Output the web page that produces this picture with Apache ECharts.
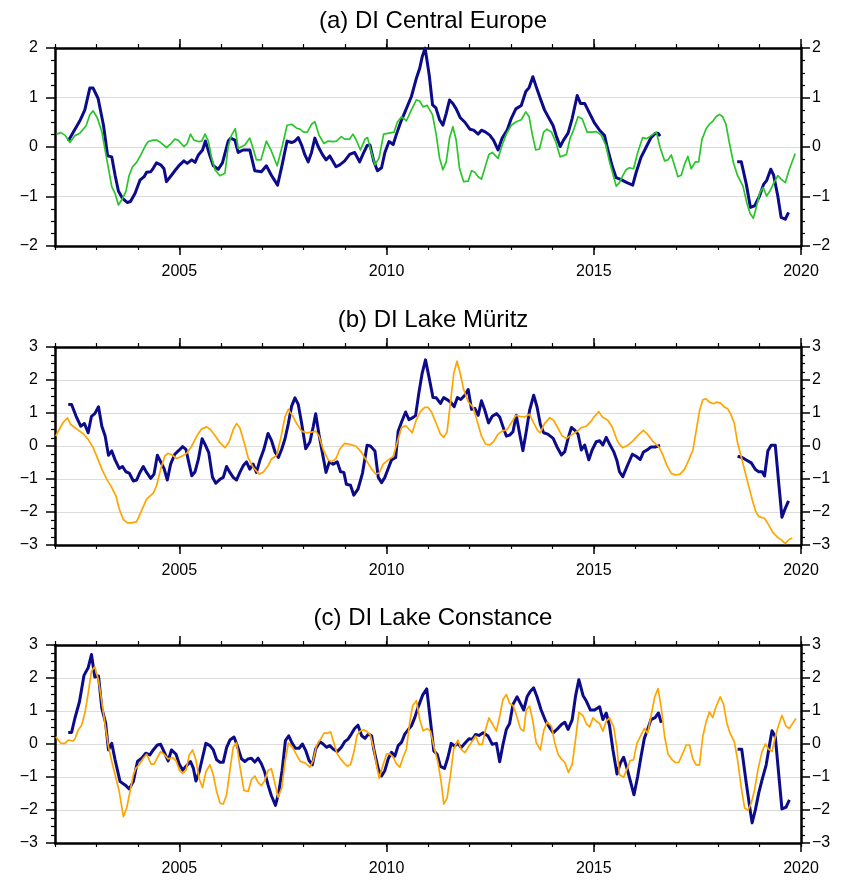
<!DOCTYPE html>
<html>
<head>
<meta charset="utf-8">
<script src="https://cdn.jsdelivr.net/npm/echarts@6.0.0/dist/echarts.min.js"></script>
<style>
  html, body { margin: 0; padding: 0; background: #fff; }
  #chart { width: 851px; height: 881px; }
</style>
</head>
<body>
<div id="chart"></div>
<script>
// decimal year, DI value; null = gap in the record
const centralObs = [[2002.32,0.12],[2002.44,0.30],[2002.60,0.53],[2002.72,0.75],[2002.84,1.19],[2002.92,1.19],[2003.04,0.98],[2003.17,0.44],[2003.27,-0.18],[2003.37,-0.20],[2003.45,-0.57],[2003.53,-0.89],[2003.63,-1.04],[2003.74,-1.12],[2003.82,-1.10],[2003.93,-0.94],[2004.05,-0.67],[2004.15,-0.60],[2004.21,-0.51],[2004.31,-0.50],[2004.37,-0.43],[2004.45,-0.32],[2004.55,-0.36],[2004.63,-0.44],[2004.69,-0.70],[2004.81,-0.57],[2004.92,-0.45],[2005.01,-0.36],[2005.11,-0.28],[2005.19,-0.33],[2005.30,-0.26],[2005.38,-0.31],[2005.46,-0.16],[2005.56,-0.06],[2005.63,0.12],[2005.72,-0.13],[2005.82,-0.38],[2005.94,-0.45],[2006.04,-0.32],[2006.18,0.12],[2006.24,0.18],[2006.34,0.14],[2006.42,-0.11],[2006.54,-0.06],[2006.70,-0.06],[2006.82,-0.48],[2006.98,-0.50],[2007.10,-0.38],[2007.22,-0.57],[2007.31,-0.69],[2007.37,-0.77],[2007.47,-0.40],[2007.60,0.12],[2007.71,0.09],[2007.79,0.12],[2007.87,0.19],[2007.95,0.04],[2008.03,-0.16],[2008.11,-0.30],[2008.19,-0.11],[2008.27,0.18],[2008.35,0.01],[2008.45,-0.15],[2008.54,-0.26],[2008.63,-0.18],[2008.78,-0.40],[2008.87,-0.36],[2008.99,-0.28],[2009.11,-0.15],[2009.23,-0.11],[2009.35,-0.30],[2009.44,-0.13],[2009.53,0.03],[2009.60,0.04],[2009.69,-0.28],[2009.78,-0.48],[2009.88,-0.42],[2009.96,-0.11],[2010.06,0.11],[2010.16,0.05],[2010.24,0.26],[2010.34,0.50],[2010.44,0.70],[2010.60,1.02],[2010.72,1.39],[2010.80,1.59],[2010.86,1.82],[2010.93,2.00],[2011.03,1.45],[2011.11,0.85],[2011.19,0.79],[2011.28,0.55],[2011.36,0.44],[2011.44,0.68],[2011.52,0.95],[2011.60,0.88],[2011.68,0.77],[2011.78,0.59],[2011.89,0.50],[2012.01,0.36],[2012.10,0.34],[2012.21,0.26],[2012.29,0.34],[2012.39,0.30],[2012.49,0.24],[2012.58,0.14],[2012.69,-0.06],[2012.79,0.18],[2012.91,0.34],[2013.01,0.58],[2013.12,0.77],[2013.25,0.84],[2013.36,1.12],[2013.44,1.20],[2013.53,1.42],[2013.61,1.22],[2013.71,0.98],[2013.81,0.75],[2013.92,0.58],[2014.02,0.43],[2014.10,0.21],[2014.19,0.01],[2014.27,0.14],[2014.38,0.28],[2014.48,0.58],[2014.60,1.04],[2014.68,0.88],[2014.78,0.88],[2014.90,0.68],[2015.02,0.48],[2015.14,0.34],[2015.26,0.23],[2015.34,-0.06],[2015.45,-0.40],[2015.54,-0.62],[2015.66,-0.66],[2015.80,-0.72],[2015.94,-0.77],[2016.02,-0.52],[2016.14,-0.21],[2016.26,-0.01],[2016.38,0.19],[2016.49,0.28],[2016.55,0.28],[2016.60,0.22],[2017.50,null],[2018.46,-0.30],[2018.56,-0.30],[2018.68,-0.75],[2018.78,-1.22],[2018.88,-1.19],[2019.00,-0.99],[2019.10,-0.75],[2019.17,-0.68],[2019.27,-0.45],[2019.34,-0.57],[2019.44,-0.99],[2019.52,-1.42],[2019.62,-1.46],[2019.70,-1.32]];

const centralModel = [[2002.04,0.26],[2002.14,0.29],[2002.24,0.24],[2002.36,0.09],[2002.48,0.23],[2002.60,0.28],[2002.75,0.43],[2002.84,0.65],[2002.92,0.73],[2003.02,0.59],[2003.13,0.31],[2003.23,-0.16],[2003.37,-0.80],[2003.45,-0.94],[2003.53,-1.17],[2003.63,-1.04],[2003.71,-0.90],[2003.79,-0.57],[2003.87,-0.40],[2003.97,-0.31],[2004.07,-0.16],[2004.17,0.01],[2004.25,0.11],[2004.37,0.14],[2004.45,0.14],[2004.55,0.09],[2004.69,-0.01],[2004.80,0.07],[2004.89,0.16],[2004.97,0.14],[2005.11,0.01],[2005.19,0.07],[2005.27,0.26],[2005.35,0.14],[2005.46,0.11],[2005.54,0.12],[2005.62,0.26],[2005.70,0.12],[2005.78,-0.23],[2005.86,-0.46],[2005.98,-0.58],[2006.10,-0.53],[2006.18,0.01],[2006.26,0.24],[2006.35,0.37],[2006.42,-0.03],[2006.58,0.04],[2006.70,0.18],[2006.78,-0.03],[2006.86,-0.26],[2006.97,-0.26],[2007.10,0.12],[2007.22,-0.08],[2007.36,-0.38],[2007.49,0.04],[2007.60,0.44],[2007.71,0.46],[2007.83,0.38],[2007.91,0.36],[2008.00,0.30],[2008.09,0.30],[2008.19,0.46],[2008.27,0.51],[2008.37,0.24],[2008.49,0.07],[2008.59,0.12],[2008.71,0.11],[2008.79,0.12],[2008.91,0.21],[2008.99,0.16],[2009.11,0.16],[2009.19,0.26],[2009.27,0.14],[2009.37,-0.06],[2009.48,0.16],[2009.54,0.19],[2009.61,-0.03],[2009.72,-0.36],[2009.82,-0.22],[2009.93,0.26],[2010.06,0.28],[2010.18,0.30],[2010.26,0.50],[2010.36,0.61],[2010.48,0.53],[2010.60,0.75],[2010.72,0.95],[2010.80,0.93],[2010.88,0.81],[2010.98,0.84],[2011.11,0.65],[2011.20,0.24],[2011.28,-0.23],[2011.36,-0.46],[2011.44,-0.30],[2011.52,0.18],[2011.60,0.41],[2011.68,0.14],[2011.76,-0.43],[2011.86,-0.70],[2011.97,-0.69],[2012.05,-0.48],[2012.13,-0.51],[2012.21,-0.60],[2012.29,-0.65],[2012.37,-0.43],[2012.47,-0.15],[2012.55,-0.11],[2012.69,-0.23],[2012.79,0.04],[2012.89,0.26],[2013.01,0.44],[2013.13,0.51],[2013.25,0.55],[2013.36,0.71],[2013.44,0.61],[2013.52,0.24],[2013.60,-0.06],[2013.69,-0.04],[2013.79,0.30],[2013.87,0.36],[2013.98,0.30],[2014.08,0.11],[2014.19,-0.20],[2014.34,-0.15],[2014.43,0.18],[2014.51,0.34],[2014.62,0.61],[2014.72,0.57],[2014.84,0.30],[2014.94,0.30],[2015.06,0.31],[2015.18,0.24],[2015.29,0.04],[2015.38,-0.30],[2015.48,-0.60],[2015.54,-0.79],[2015.62,-0.72],[2015.70,-0.58],[2015.78,-0.46],[2015.86,-0.42],[2015.96,-0.44],[2016.06,-0.11],[2016.18,0.19],[2016.28,0.17],[2016.38,0.23],[2016.51,0.30],[2016.60,-0.01],[2016.71,-0.28],[2016.79,-0.26],[2016.87,-0.16],[2016.95,-0.38],[2017.03,-0.60],[2017.11,-0.57],[2017.19,-0.35],[2017.27,-0.19],[2017.35,-0.44],[2017.45,-0.30],[2017.53,-0.30],[2017.61,0.15],[2017.71,0.37],[2017.79,0.46],[2017.87,0.52],[2017.95,0.61],[2018.03,0.66],[2018.11,0.61],[2018.19,0.46],[2018.27,0.09],[2018.37,-0.32],[2018.47,-0.58],[2018.60,-0.79],[2018.69,-1.12],[2018.77,-1.34],[2018.85,-1.44],[2018.93,-1.19],[2019.01,-0.92],[2019.09,-0.82],[2019.17,-0.99],[2019.25,-0.89],[2019.33,-0.75],[2019.44,-0.58],[2019.52,-0.65],[2019.62,-0.72],[2019.72,-0.45],[2019.86,-0.13]];

const muritzObs = [[2002.32,1.26],[2002.40,1.26],[2002.51,0.90],[2002.62,0.60],[2002.71,0.68],[2002.80,0.40],[2002.88,0.90],[2002.96,0.98],[2003.05,1.19],[2003.13,0.60],[2003.21,0.30],[2003.29,-0.28],[2003.37,-0.15],[2003.45,-0.42],[2003.55,-0.68],[2003.63,-0.62],[2003.71,-0.78],[2003.79,-0.82],[2003.89,-1.06],[2003.97,-1.03],[2004.05,-0.80],[2004.13,-0.62],[2004.21,-0.80],[2004.31,-0.98],[2004.39,-0.85],[2004.47,-0.28],[2004.55,-0.48],[2004.63,-0.68],[2004.71,-1.03],[2004.79,-0.55],[2004.89,-0.25],[2005.00,-0.12],[2005.08,-0.02],[2005.16,-0.10],[2005.22,-0.45],[2005.30,-0.90],[2005.38,-0.78],[2005.46,-0.40],[2005.55,0.22],[2005.62,0.05],[2005.71,-0.20],[2005.80,-0.95],[2005.88,-1.13],[2005.98,-1.01],[2006.06,-0.95],[2006.14,-0.62],[2006.22,-0.80],[2006.30,-0.95],[2006.38,-1.03],[2006.46,-0.80],[2006.54,-0.60],[2006.62,-0.48],[2006.70,-0.70],[2006.78,-0.55],[2006.86,-0.80],[2006.94,-0.45],[2007.04,-0.10],[2007.14,0.38],[2007.22,0.18],[2007.31,-0.18],[2007.39,-0.35],[2007.47,-0.10],[2007.55,0.22],[2007.63,0.68],[2007.71,1.21],[2007.79,1.46],[2007.87,1.26],[2007.95,0.70],[2008.05,-0.08],[2008.15,0.12],[2008.23,0.58],[2008.29,0.98],[2008.37,0.35],[2008.45,-0.20],[2008.54,-0.80],[2008.62,-0.48],[2008.71,-0.55],[2008.81,-0.48],[2008.89,-0.78],[2008.97,-0.80],[2009.03,-1.16],[2009.13,-1.19],[2009.21,-1.49],[2009.31,-1.31],[2009.42,-0.82],[2009.53,0.02],[2009.61,0.00],[2009.72,-0.15],[2009.80,-0.95],[2009.88,-1.11],[2009.96,-0.95],[2010.04,-0.68],[2010.12,-0.42],[2010.22,-0.35],[2010.28,0.45],[2010.36,0.72],[2010.46,1.03],[2010.54,0.80],[2010.62,0.85],[2010.70,0.92],[2010.78,1.61],[2010.86,2.21],[2010.94,2.61],[2011.04,1.99],[2011.12,1.47],[2011.20,1.46],[2011.30,1.29],[2011.38,1.47],[2011.48,1.39],[2011.56,1.31],[2011.63,1.19],[2011.71,1.47],[2011.79,1.41],[2011.89,1.54],[2011.97,1.71],[2012.05,1.11],[2012.13,1.14],[2012.21,0.93],[2012.29,1.37],[2012.37,1.09],[2012.46,0.70],[2012.55,0.90],[2012.65,0.98],[2012.73,0.88],[2012.81,0.58],[2012.89,0.30],[2012.97,0.33],[2013.05,0.43],[2013.13,0.93],[2013.21,0.38],[2013.29,-0.14],[2013.37,0.43],[2013.45,1.07],[2013.55,1.54],[2013.63,1.19],[2013.71,0.66],[2013.79,0.40],[2013.89,0.36],[2014.02,0.23],[2014.11,-0.02],[2014.22,-0.27],[2014.30,-0.17],[2014.38,0.23],[2014.46,0.56],[2014.54,0.48],[2014.62,0.36],[2014.70,-0.12],[2014.78,0.03],[2014.88,-0.42],[2014.96,-0.12],[2015.06,0.13],[2015.14,0.16],[2015.22,0.03],[2015.30,0.26],[2015.38,0.06],[2015.48,-0.17],[2015.56,-0.45],[2015.62,-0.78],[2015.70,-0.93],[2015.80,-0.63],[2015.93,-0.25],[2016.02,-0.31],[2016.12,-0.41],[2016.20,-0.18],[2016.30,-0.11],[2016.38,-0.03],[2016.48,-0.03],[2016.60,0.02],[2017.50,null],[2018.47,-0.31],[2018.58,-0.35],[2018.69,-0.43],[2018.80,-0.51],[2018.90,-0.71],[2018.98,-0.78],[2019.06,-0.78],[2019.12,-0.91],[2019.20,-0.15],[2019.28,0.02],[2019.38,0.02],[2019.46,-1.09],[2019.54,-2.16],[2019.62,-1.89],[2019.70,-1.66]];

const muritzModel = [[2002.02,0.30],[2002.10,0.50],[2002.20,0.72],[2002.30,0.85],[2002.38,0.65],[2002.52,0.52],[2002.68,0.37],[2002.80,0.20],[2002.92,-0.05],[2003.02,-0.35],[2003.13,-0.70],[2003.25,-1.01],[2003.37,-1.26],[2003.47,-1.51],[2003.55,-1.91],[2003.65,-2.23],[2003.75,-2.33],[2003.85,-2.33],[2003.97,-2.29],[2004.07,-2.01],[2004.21,-1.61],[2004.37,-1.43],[2004.45,-1.21],[2004.55,-0.70],[2004.65,-0.30],[2004.73,-0.22],[2004.84,-0.28],[2004.93,-0.38],[2005.05,-0.32],[2005.18,-0.22],[2005.30,0.00],[2005.42,0.30],[2005.54,0.52],[2005.66,0.58],[2005.75,0.50],[2005.86,0.32],[2005.98,0.10],[2006.10,-0.05],[2006.20,0.12],[2006.30,0.50],[2006.38,0.68],[2006.46,0.55],[2006.56,0.12],[2006.66,-0.35],[2006.78,-0.65],[2006.93,-0.85],[2007.02,-0.80],[2007.14,-0.60],[2007.22,-0.40],[2007.35,-0.28],[2007.44,0.20],[2007.55,0.88],[2007.63,1.11],[2007.73,0.92],[2007.83,0.68],[2007.95,0.45],[2008.07,0.40],[2008.19,0.42],[2008.29,0.45],[2008.37,0.30],[2008.47,-0.10],[2008.59,-0.42],[2008.67,-0.48],[2008.78,-0.38],[2008.87,-0.10],[2008.99,0.08],[2009.11,0.05],[2009.26,0.00],[2009.40,-0.20],[2009.52,-0.45],[2009.64,-0.70],[2009.74,-0.85],[2009.82,-0.82],[2009.92,-0.55],[2010.04,-0.42],[2010.16,-0.32],[2010.26,0.12],[2010.36,0.55],[2010.46,0.62],[2010.62,0.40],[2010.72,0.80],[2010.82,1.05],[2010.92,1.17],[2011.00,1.17],[2011.08,1.04],[2011.20,0.68],[2011.30,0.36],[2011.38,0.26],[2011.46,0.43],[2011.54,1.29],[2011.62,2.19],[2011.70,2.57],[2011.78,2.19],[2011.86,1.71],[2011.97,1.34],[2012.09,1.17],[2012.18,0.78],[2012.29,0.30],[2012.39,0.06],[2012.49,0.03],[2012.58,0.13],[2012.69,0.36],[2012.79,0.45],[2012.91,0.50],[2013.01,0.70],[2013.12,0.93],[2013.21,0.90],[2013.33,0.88],[2013.45,0.96],[2013.55,0.70],[2013.65,0.46],[2013.71,0.40],[2013.81,0.68],[2013.94,0.86],[2014.03,0.78],[2014.14,0.53],[2014.24,0.30],[2014.34,0.23],[2014.46,0.33],[2014.58,0.43],[2014.70,0.56],[2014.82,0.60],[2014.92,0.73],[2015.02,0.90],[2015.12,1.04],[2015.22,0.86],[2015.34,0.78],[2015.45,0.56],[2015.56,0.18],[2015.62,0.05],[2015.70,-0.05],[2015.82,0.02],[2015.94,0.15],[2016.09,0.35],[2016.20,0.47],[2016.30,0.35],[2016.42,0.15],[2016.57,-0.03],[2016.67,-0.28],[2016.76,-0.58],[2016.87,-0.83],[2016.97,-0.88],[2017.08,-0.85],[2017.19,-0.71],[2017.29,-0.43],[2017.39,-0.13],[2017.47,0.45],[2017.55,1.06],[2017.63,1.40],[2017.71,1.43],[2017.79,1.33],[2017.89,1.28],[2017.97,1.33],[2018.06,1.30],[2018.15,1.18],[2018.23,1.13],[2018.31,0.95],[2018.39,0.69],[2018.47,0.09],[2018.58,-0.43],[2018.69,-0.98],[2018.80,-1.52],[2018.90,-1.96],[2018.98,-2.14],[2019.12,-2.19],[2019.22,-2.39],[2019.32,-2.62],[2019.44,-2.77],[2019.54,-2.86],[2019.62,-2.96],[2019.70,-2.84],[2019.79,-2.79]];

const constanceObs = [[2002.32,0.35],[2002.40,0.35],[2002.48,0.78],[2002.59,1.28],[2002.70,2.08],[2002.80,2.31],[2002.88,2.71],[2002.96,2.03],[2003.05,2.06],[2003.13,1.08],[2003.22,0.65],[2003.29,-0.18],[2003.37,0.02],[2003.45,-0.48],[2003.57,-1.14],[2003.69,-1.24],[2003.79,-1.36],[2003.89,-1.14],[2003.99,-0.53],[2004.09,-0.43],[2004.19,-0.28],[2004.29,-0.33],[2004.37,-0.18],[2004.47,-0.03],[2004.55,-0.01],[2004.63,-0.23],[2004.73,-0.51],[2004.81,-0.18],[2004.92,-0.31],[2005.00,-0.61],[2005.08,-0.79],[2005.18,-0.65],[2005.27,-0.53],[2005.34,-0.74],[2005.40,-1.12],[2005.48,-0.84],[2005.56,-0.41],[2005.64,0.02],[2005.74,-0.05],[2005.82,-0.18],[2005.90,-0.48],[2005.98,-0.55],[2006.06,-0.55],[2006.14,-0.11],[2006.22,0.12],[2006.32,0.21],[2006.40,-0.06],[2006.50,-0.45],[2006.58,-0.53],[2006.66,-0.45],[2006.74,-0.43],[2006.82,-0.55],[2006.90,-0.43],[2006.98,-0.60],[2007.06,-0.85],[2007.14,-1.24],[2007.22,-1.56],[2007.32,-1.86],[2007.40,-1.46],[2007.48,-0.80],[2007.56,0.10],[2007.64,0.25],[2007.72,0.03],[2007.80,-0.13],[2007.89,-0.13],[2007.97,0.00],[2008.05,-0.20],[2008.13,-0.50],[2008.21,-0.63],[2008.29,-0.15],[2008.39,0.07],[2008.47,0.00],[2008.55,-0.10],[2008.63,-0.05],[2008.71,-0.15],[2008.81,-0.23],[2008.91,-0.10],[2008.99,0.07],[2009.07,0.15],[2009.15,0.30],[2009.23,0.47],[2009.31,0.57],[2009.40,0.25],[2009.48,0.17],[2009.56,0.30],[2009.64,0.25],[2009.69,-0.15],[2009.80,-0.75],[2009.88,-0.97],[2009.96,-0.80],[2010.04,-0.45],[2010.12,-0.25],[2010.20,-0.37],[2010.28,-0.05],[2010.36,0.05],[2010.44,0.30],[2010.52,0.43],[2010.60,0.55],[2010.68,0.80],[2010.76,1.11],[2010.87,1.48],[2010.97,1.67],[2011.06,0.69],[2011.14,-0.21],[2011.22,-0.31],[2011.30,-0.68],[2011.40,-0.74],[2011.48,-0.41],[2011.56,0.02],[2011.64,-0.06],[2011.72,0.02],[2011.80,-0.11],[2011.89,0.02],[2011.99,0.16],[2012.07,0.14],[2012.15,0.29],[2012.23,0.26],[2012.33,0.34],[2012.45,0.24],[2012.55,-0.01],[2012.65,0.02],[2012.73,-0.54],[2012.81,-0.01],[2012.89,0.44],[2012.97,0.62],[2013.05,1.20],[2013.15,1.43],[2013.23,1.23],[2013.31,1.03],[2013.39,1.43],[2013.47,1.60],[2013.55,1.70],[2013.63,1.43],[2013.73,1.03],[2013.84,0.69],[2013.94,0.49],[2014.02,0.34],[2014.11,0.44],[2014.22,0.59],[2014.30,0.66],[2014.38,0.44],[2014.48,0.74],[2014.56,1.45],[2014.64,1.95],[2014.74,1.47],[2014.82,1.30],[2014.92,1.03],[2015.02,1.03],[2015.14,1.13],[2015.22,0.74],[2015.30,0.94],[2015.38,0.56],[2015.46,-0.16],[2015.56,-0.91],[2015.64,-0.58],[2015.72,-0.40],[2015.80,-0.73],[2015.88,-1.11],[2015.97,-1.54],[2016.06,-0.98],[2016.14,-0.38],[2016.22,0.17],[2016.30,0.44],[2016.38,0.74],[2016.48,0.80],[2016.56,0.94],[2016.63,0.64],[2017.50,null],[2018.47,-0.16],[2018.57,-0.16],[2018.68,-1.19],[2018.76,-1.89],[2018.82,-2.39],[2018.90,-1.99],[2018.98,-1.49],[2019.06,-1.09],[2019.16,-0.63],[2019.24,-0.03],[2019.30,0.40],[2019.38,0.22],[2019.46,-0.88],[2019.54,-1.97],[2019.64,-1.91],[2019.72,-1.69]];

const constanceModel = [[2002.02,0.22],[2002.14,0.02],[2002.24,0.02],[2002.32,0.12],[2002.43,0.09],[2002.48,0.15],[2002.56,0.42],[2002.64,0.57],[2002.72,0.93],[2002.80,1.53],[2002.88,2.21],[2002.96,2.34],[2003.05,1.93],[2003.13,1.28],[2003.21,0.57],[2003.29,-0.08],[2003.37,-0.53],[2003.47,-1.04],[2003.55,-1.44],[2003.65,-2.20],[2003.73,-1.94],[2003.81,-1.44],[2003.89,-0.94],[2003.95,-0.74],[2004.03,-0.63],[2004.13,-0.43],[2004.21,-0.31],[2004.32,-0.61],[2004.39,-0.61],[2004.47,-0.41],[2004.55,-0.23],[2004.63,-0.31],[2004.73,-0.45],[2004.84,-0.41],[2004.92,-0.51],[2005.00,-0.79],[2005.08,-0.89],[2005.16,-0.79],[2005.24,-0.33],[2005.32,-0.18],[2005.40,-0.48],[2005.48,-1.06],[2005.56,-1.32],[2005.64,-0.84],[2005.74,-0.63],[2005.82,-0.94],[2005.90,-1.44],[2005.98,-1.79],[2006.06,-1.82],[2006.14,-1.54],[2006.22,-0.80],[2006.30,-0.10],[2006.38,0.04],[2006.46,-0.66],[2006.56,-1.41],[2006.66,-1.44],[2006.74,-1.08],[2006.82,-0.97],[2006.90,-1.16],[2006.98,-1.26],[2007.06,-1.11],[2007.14,-0.80],[2007.22,-0.75],[2007.30,-1.16],[2007.38,-1.61],[2007.47,-1.34],[2007.55,-0.55],[2007.63,0.03],[2007.73,-0.10],[2007.83,-0.33],[2007.92,-0.53],[2008.03,-0.57],[2008.15,-0.70],[2008.23,-0.50],[2008.31,-0.05],[2008.41,0.15],[2008.49,0.33],[2008.59,0.33],[2008.65,0.37],[2008.73,0.03],[2008.81,-0.30],[2008.89,-0.45],[2008.97,-0.57],[2009.05,-0.67],[2009.13,-0.63],[2009.21,-0.25],[2009.29,0.27],[2009.37,0.40],[2009.45,0.43],[2009.53,0.37],[2009.61,0.27],[2009.69,-0.15],[2009.76,-0.65],[2009.82,-1.04],[2009.90,-0.70],[2010.00,-0.30],[2010.08,-0.30],[2010.16,-0.40],[2010.24,-0.60],[2010.32,-0.70],[2010.40,-0.40],[2010.48,-0.15],[2010.56,0.67],[2010.63,1.16],[2010.72,1.31],[2010.80,0.75],[2010.88,0.40],[2010.98,0.46],[2011.06,0.39],[2011.14,-0.06],[2011.24,-0.56],[2011.32,-1.17],[2011.38,-1.82],[2011.46,-1.64],[2011.54,-0.96],[2011.62,-0.16],[2011.72,0.12],[2011.80,-0.16],[2011.89,-0.26],[2011.99,-0.06],[2012.07,0.09],[2012.15,0.24],[2012.23,-0.01],[2012.31,-0.01],[2012.39,0.44],[2012.47,0.79],[2012.55,0.62],[2012.65,0.39],[2012.73,0.84],[2012.81,1.35],[2012.89,1.50],[2012.97,1.23],[2013.05,1.17],[2013.13,0.89],[2013.23,0.46],[2013.31,0.39],[2013.37,1.03],[2013.45,1.15],[2013.53,0.69],[2013.61,0.04],[2013.71,-0.18],[2013.79,0.39],[2013.87,0.66],[2013.98,0.54],[2014.06,0.02],[2014.14,-0.31],[2014.22,-0.46],[2014.30,-0.56],[2014.39,-0.86],[2014.48,-0.61],[2014.56,0.14],[2014.64,0.96],[2014.74,0.86],[2014.82,0.62],[2014.90,0.52],[2014.98,0.79],[2015.06,0.69],[2015.14,0.62],[2015.22,0.39],[2015.30,0.69],[2015.38,0.79],[2015.48,0.52],[2015.56,-0.13],[2015.62,-0.93],[2015.72,-1.01],[2015.80,-0.76],[2015.88,-0.50],[2015.96,-0.48],[2016.04,0.02],[2016.14,0.27],[2016.22,0.47],[2016.30,0.32],[2016.38,0.84],[2016.47,1.43],[2016.55,1.68],[2016.63,1.08],[2016.71,0.22],[2016.79,-0.30],[2016.89,-0.48],[2016.97,-0.56],[2017.05,-0.56],[2017.13,-0.33],[2017.23,-0.03],[2017.31,-0.03],[2017.39,-0.46],[2017.47,-0.63],[2017.55,-0.63],[2017.63,0.22],[2017.71,0.67],[2017.79,0.97],[2017.87,0.80],[2017.95,1.13],[2018.05,1.43],[2018.13,1.21],[2018.21,0.64],[2018.29,0.32],[2018.39,0.07],[2018.47,-0.48],[2018.56,-1.34],[2018.64,-1.94],[2018.72,-2.01],[2018.80,-1.79],[2018.88,-1.39],[2018.96,-0.78],[2019.06,-0.23],[2019.14,0.00],[2019.22,-0.16],[2019.30,-0.23],[2019.38,0.22],[2019.46,0.57],[2019.54,0.87],[2019.64,0.54],[2019.72,0.47],[2019.82,0.67],[2019.88,0.77]];

const titles = ['(a) DI Central Europe', '(b) DI Lake Müritz', '(c) DI Lake Constance'];
const yRanges = [[-2, 2], [-3, 3], [-3, 3]];
const yearLabels = [2005, 2010, 2015, 2020];

const FONT = '"Liberation Sans", Arial, Helvetica, sans-serif';
const BLUE = '#0c0c8a';
const GREEN = '#2ac52a';
const ORANGE = '#ffa500';
const FRAME = { onZero: false, lineStyle: { color: '#000', width: 2.5 } };
const NOLINE = { show: false, onZero: false };

const panelTops = [48, 347, 645];
const plotH = 198;

const chart = echarts.init(document.getElementById('chart'), null, { renderer: 'canvas' });

const grid = [], xAxis = [], yAxis = [], series = [], title = [];
const minus = v => String(v).replace('-', '\u2212');

panelTops.forEach((top, i) => {
  grid.push({ left: 55, right: 50, top: top, height: plotH });
  title.push({
    text: titles[i], left: 428, top: top - 44, textAlign: 'center',
    textStyle: { fontFamily: FONT, fontSize: 24, fontWeight: 'normal', color: '#000' }
  });

  const base = { gridIndex: i, type: 'value', min: 2002, max: 2020, splitLine: { show: false } };
  // bottom: frame + long ticks with year labels
  xAxis.push(Object.assign({}, base, {
    position: 'bottom', axisLine: FRAME,
    axisTick: { customValues: yearLabels, length: 9, lineStyle: { color: '#000', width: 1.5 } },
    axisLabel: { customValues: yearLabels, fontFamily: FONT, fontSize: 16, color: '#000', margin: 18,
      formatter: v => String(v) }
  }));
  // bottom: yearly short ticks
  xAxis.push(Object.assign({}, base, {
    position: 'bottom', interval: 1, axisLine: NOLINE,
    axisTick: { length: 4, lineStyle: { color: '#000', width: 1.2 } }, axisLabel: { show: false }
  }));
  // top mirror
  xAxis.push(Object.assign({}, base, {
    position: 'top', axisLine: FRAME,
    axisTick: { customValues: yearLabels, length: 9, lineStyle: { color: '#000', width: 1.5 } },
    axisLabel: { show: false }
  }));
  xAxis.push(Object.assign({}, base, {
    position: 'top', interval: 1, axisLine: NOLINE,
    axisTick: { length: 4, lineStyle: { color: '#000', width: 1.2 } }, axisLabel: { show: false }
  }));

  const yBase = {
    gridIndex: i, type: 'value', min: yRanges[i][0], max: yRanges[i][1], interval: 1,
    axisLine: FRAME,
    axisTick: { length: 9, lineStyle: { color: '#000', width: 1.5 } },
    minorTick: { show: true, splitNumber: 4, length: 4, lineStyle: { color: '#000', width: 1.2 } },
    axisLabel: { fontFamily: FONT, fontSize: 16, color: '#000', formatter: minus }
  };
  yAxis.push(Object.assign({}, yBase, {
    position: 'left',
    axisLabel: Object.assign({}, yBase.axisLabel, { margin: 17 }),
    splitLine: { show: true, lineStyle: { color: '#dcdcdc', width: 1 } }
  }));
  yAxis.push(Object.assign({}, yBase, {
    position: 'right',
    axisLabel: Object.assign({}, yBase.axisLabel, { margin: 11 }),
    splitLine: { show: false }
  }));
});

function line(data, panel, color, width, z) {
  return {
    type: 'line', data: data, xAxisIndex: panel * 4, yAxisIndex: panel * 2,
    showSymbol: false, connectNulls: false, animation: false, z: z,
    lineStyle: { color: color, width: width, join: 'round' }
  };
}

series.push(line(centralObs, 0, BLUE, 3, 2));
series.push(line(centralModel, 0, GREEN, 1.7, 3));
series.push(line(muritzObs, 1, BLUE, 3, 2));
series.push(line(muritzModel, 1, ORANGE, 1.7, 3));
series.push(line(constanceObs, 2, BLUE, 3, 2));
series.push(line(constanceModel, 2, ORANGE, 1.7, 3));

chart.setOption({
  backgroundColor: '#fff',
  animation: false,
  title: title,
  grid: grid,
  xAxis: xAxis,
  yAxis: yAxis,
  series: series
});
</script>
</body>
</html>
